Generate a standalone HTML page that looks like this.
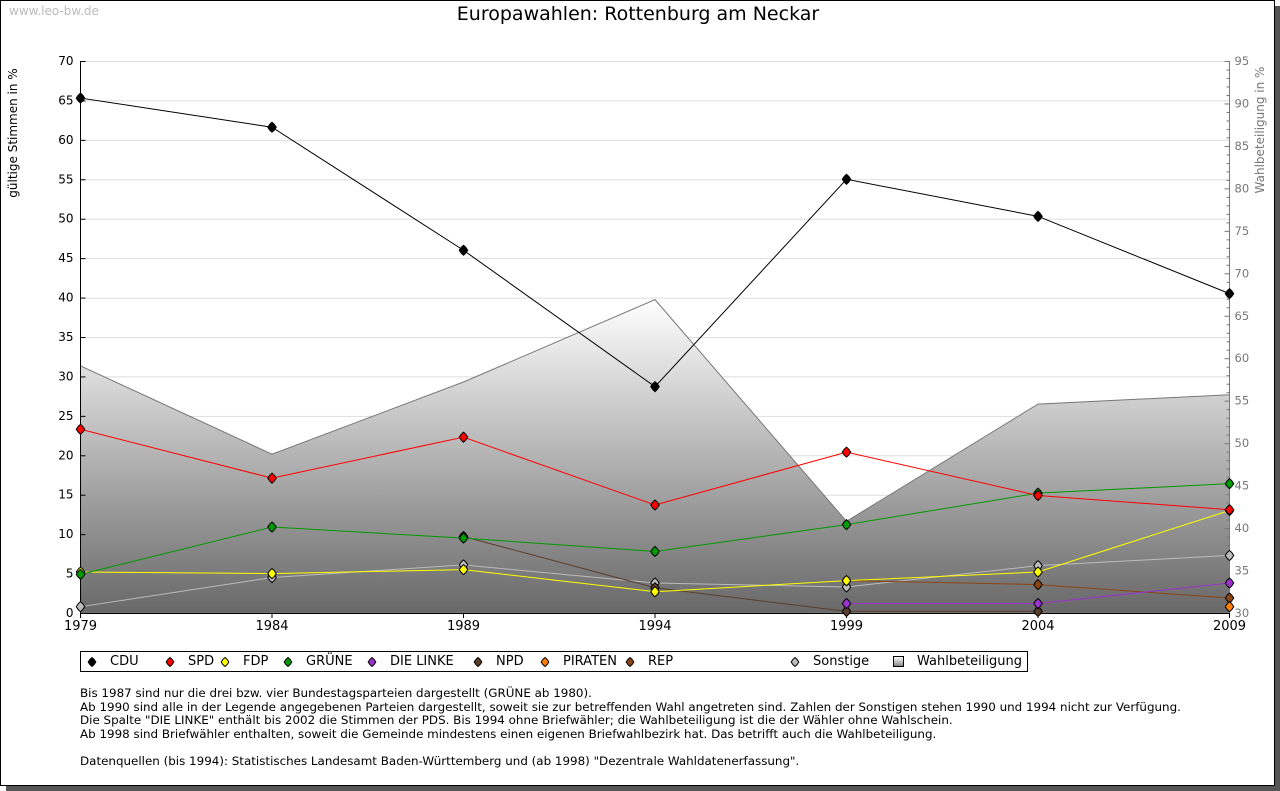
<!DOCTYPE html>
<html><head><meta charset="utf-8"><style>
body{margin:0;background:#fff;font-family:"DejaVu Sans","Liberation Sans",sans-serif;}
#wrap{position:relative;width:1280px;height:791px;overflow:hidden;}
.t{position:absolute;font-size:12px;color:#000;white-space:nowrap;}
</style></head><body>
<div id="wrap">
<div style="position:absolute;left:6px;top:6px;width:1274px;height:785px;background:#555"></div>
<div style="position:absolute;left:0;top:0;width:1273px;height:784px;border:1px solid #000;background:#fff"></div>
<div class="t" style="left:9px;top:4px;color:#bbb;font-size:12px">www.leo-bw.de</div>
<div class="t" style="left:0;width:1276px;text-align:center;top:3px;font-size:19px">Europawahlen: Rottenburg am Neckar</div>
<svg id="chart" width="1280" height="640" style="position:absolute;left:0;top:0" font-family="DejaVu Sans, Liberation Sans, sans-serif" font-size="12">
<defs><linearGradient id="g" x1="0" y1="0" x2="0" y2="1" gradientUnits="objectBoundingBox">
<stop offset="0" stop-color="#ffffff"/><stop offset="1" stop-color="#686868"/></linearGradient></defs>
<g id="grid"></g><g id="area"></g><g id="axes"></g><g id="lines"></g>
<text transform="translate(17,133) rotate(-90)" text-anchor="middle" font-size="12">gültige Stimmen in %</text>
<text transform="translate(1264,130) rotate(-90)" text-anchor="middle" font-size="12" fill="#777">Wahlbeteiligung in %</text>
</svg>
<div style="position:absolute;left:80px;top:651px;width:946px;height:19px;border:1px solid #000"></div>
<div id="leg"></div>
<div class="t" style="left:80px;top:687px;line-height:13.5px;font-size:11.9px">Bis 1987 sind nur die drei bzw. vier Bundestagsparteien dargestellt (GRÜNE ab 1980).<br>Ab 1990 sind alle in der Legende angegebenen Parteien dargestellt, soweit sie zur betreffenden Wahl angetreten sind. Zahlen der Sonstigen stehen 1990 und 1994 nicht zur Verfügung.<br>Die Spalte "DIE LINKE" enthält bis 2002 die Stimmen der PDS. Bis 1994 ohne Briefwähler; die Wahlbeteiligung ist die der Wähler ohne Wahlschein.<br>Ab 1998 sind Briefwähler enthalten, soweit die Gemeinde mindestens einen eigenen Briefwahlbezirk hat. Das betrifft auch die Wahlbeteiligung.<br><br>Datenquellen (bis 1994): Statistisches Landesamt Baden-Württemberg und (ab 1998) "Dezentrale Wahldatenerfassung".</div>
</div>
<script>
const years=[1979,1984,1989,1994,1999,2004,2009];
const cdu=[65.3,61.6,46.0,28.7,55.0,50.3,40.5];
const spd=[23.3,17.1,22.3,13.7,20.4,14.9,13.1];
const fdp=[5.2,5.0,5.5,2.7,4.1,5.2,13.0];
const gruene=[4.9,10.9,9.5,7.8,11.2,15.2,16.4];
const linke=[null,null,null,null,1.2,1.2,3.8];
const npd=[null,null,9.7,3.2,0.2,0.2,null];
const piraten=[null,null,null,null,null,null,0.8];
const rep=[null,null,null,null,4.1,3.6,1.9];
const sonstige=[0.8,4.5,6.1,3.8,3.3,6.0,7.3];
const turnout=[59.1,48.7,57.2,66.9,40.8,54.6,55.7];
const leftTicks=[0,5,10,15,20,25,30,35,40,45,50,55,60,65,70];
const rightTicks=[30,35,40,45,50,55,60,65,70,75,80,85,90,95];
const X0=80.5,X1=1229.5,Y0=613,Y1=61;
const x=yr=>X0+(yr-1979)/(2009-1979)*(X1-X0);
const y=v=>Y0-v/70*(Y0-Y1);
const y2=v=>Y0-(v-30)/65*(Y0-Y1);
const NS='http://www.w3.org/2000/svg';
function mk(tag,attrs,parent){const e=document.createElementNS(NS,tag);for(const k in attrs)e.setAttribute(k,attrs[k]);parent.appendChild(e);return e;}
const grid=document.getElementById('grid'),axes=document.getElementById('axes'),lines=document.getElementById('lines'),area=document.getElementById('area');
leftTicks.forEach(v=>{
 if(v>0){const l=mk('line',{x1:X0,x2:X1,y1:y(v)+.5,y2:y(v)+.5,stroke:'#ddd'},grid);}
 const t=mk('text',{x:X0-7,y:y(v)+4,'text-anchor':'end'},axes);t.textContent=v;
 
 mk('line',{x1:X0,x2:X0+5,y1:y(v)+.5,y2:y(v)+.5,stroke:'#000'},axes);
});
for(let v=30;v<=95;v++){mk('line',{x1:X1-(v%5?3:5),x2:X1,y1:y2(v)+.5,y2:y2(v)+.5,stroke:'#777'},axes);}
rightTicks.forEach(v=>{const t=mk('text',{x:X1+5,y:y2(v)+4,fill:'#777','font-size':11.5},axes);t.textContent=v;
 });
let d='M'+x(years[0])+','+Y0;years.forEach((yr,i)=>d+=' L'+x(yr)+','+y2(turnout[i]));d+=' L'+x(years[years.length-1])+','+Y0+' Z';
const ar=mk('path',{d:d,fill:'url(#g)',stroke:'#777','stroke-width':1},area);

mk('line',{x1:X0,x2:X0,y1:Y1,y2:Y0,stroke:'#000'},axes);
mk('line',{x1:X1,x2:X1,y1:Y1,y2:Y0,stroke:'#777'},axes);
mk('line',{x1:X0,x2:X1,y1:Y0+.5,y2:Y0+.5,stroke:'#000'},axes);
years.forEach(yr=>{mk('line',{x1:x(yr),x2:x(yr),y1:Y0,y2:Y0+5,stroke:'#000'},axes);
 const t=mk('text',{x:x(yr),y:Y0+17,'text-anchor':'middle',"font-size":13},axes);t.textContent=yr;
 });
function diamond(cx,cy,c,p,s){const w=s*0.85,k=s*0.45;return mk('path',{d:`M${cx},${cy-s} L${cx+k},${cy-k*1.3} L${cx+w},${cy} L${cx+k},${cy+k*1.3} L${cx},${cy+s} L${cx-k},${cy+k*1.3} L${cx-w},${cy} L${cx-k},${cy-k*1.3} Z`,fill:c,stroke:'#000','stroke-width':1},p);}
const series=[['sonstige',sonstige,'#bbbbbb'],['rep',rep,'#8b4513'],['npd',npd,'#5a3e2b'],['linke',linke,'#9933cc'],['fdp',fdp,'#ffff00'],['gruene',gruene,'#009900'],['spd',spd,'#ff0000'],['cdu',cdu,'#000000'],['piraten',piraten,'#ff8000']];
series.forEach(([n,vals,c])=>{
 let pts=[];vals.forEach((v,i)=>{if(v!==null)pts.push([x(years[i]),y(v)]);});
 if(pts.length>1){const pl=mk('polyline',{points:pts.map(p=>p.join(',')).join(' '),fill:'none',stroke:c,'stroke-width':1},lines);
  }
 pts.forEach(p=>{const m=diamond(p[0],p[1],c,lines,5);});
});
const legNames=['CDU','SPD','FDP','GRÜNE','DIE LINKE','NPD','PIRATEN','REP','Sonstige'];
const legColors=['#000000','#ff0000','#ffff00','#009900','#9933cc','#5a3e2b','#ff8000','#8b4513','#bbbbbb'];
const legX=[92,170,225,288,372,478,545,630,795];
const leg=document.getElementById('leg');
legNames.forEach((n,i)=>{
 const s=document.createElementNS(NS,'svg');s.setAttribute('width',12);s.setAttribute('height',12);
 s.style.cssText=`position:absolute;left:${legX[i]-6}px;top:656px`;
 
 diamond(6,6,legColors[i],s,4.5);leg.appendChild(s);
 const t=document.createElement('div');t.className='t';t.style.left=(legX[i]+18)+'px';t.style.top='654px';t.style.fontSize='13px';t.textContent=n;
 leg.appendChild(t);
});
const sq=document.createElement('div');sq.style.cssText='position:absolute;left:893px;top:656px;width:9px;height:9px;border:1px solid #000;background:linear-gradient(#fff,#888)';
leg.appendChild(sq);
const wt=document.createElement('div');wt.className='t';wt.style.left='917px';wt.style.top='654px';wt.style.fontSize='13px';wt.textContent='Wahlbeteiligung';
leg.appendChild(wt);
</script>
</body></html>
